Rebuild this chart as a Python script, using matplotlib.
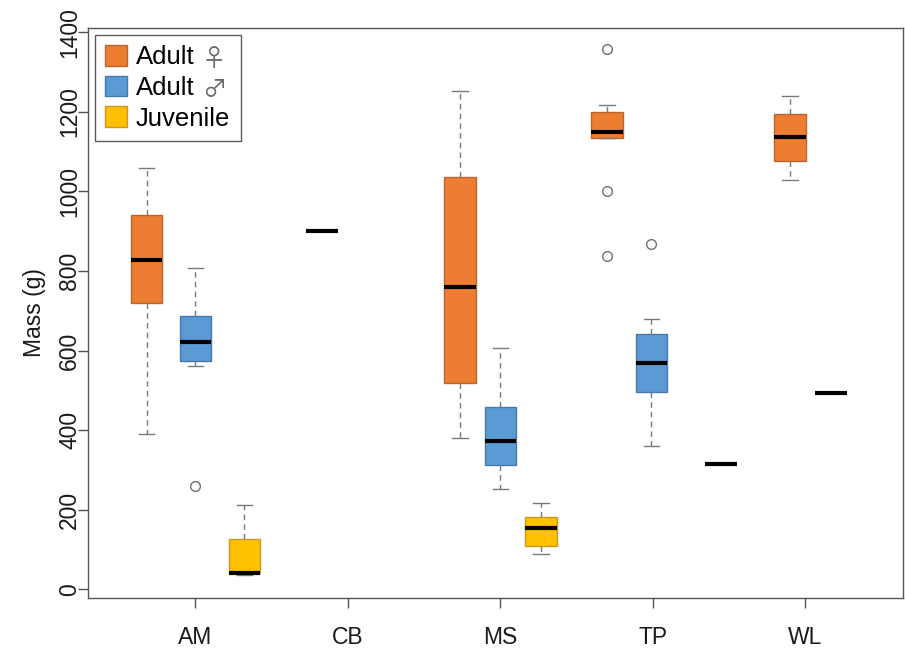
import matplotlib
matplotlib.use("Agg")
import matplotlib.pyplot as plt
from matplotlib.patches import Patch

plt.rcParams['font.family'] = ['Liberation Sans', 'DejaVu Sans']

# sites on the x axis
sites = ["AM", "CB", "MS", "TP", "WL"]

# one entry per box: site, class and five-number summary (g)
box_site  = ["AM", "AM", "AM", "CB", "MS", "MS", "MS", "TP", "TP", "TP", "WL", "WL"]
box_class = ["F",  "M",  "J",  "F",  "F",  "M",  "J",  "F",  "M",  "J",  "F",  "J"]
whislo    = [391,  560,  35,   900,  381,  252,  89,   1135, 360,  315,  1029, 494]
q1        = [719,  574,  40,   900,  518,  312,  109,  1135, 495,  315,  1077, 494]
med       = [828,  622,  42,   900,  760,  373,  153,  1150, 569,  315,  1136, 494]
q3        = [942,  687,  126,  900,  1037, 459,  182,  1199, 641,  315,  1195, 494]
whishi    = [1059, 808,  211,  900,  1253, 607,  216,  1218, 679,  315,  1239, 494]
fliers    = [[], [260], [], [], [], [], [], [1358, 1000, 838], [868], [], [], []]

classes = ["F", "M", "J"]
class_names = ["Adult", "Adult", "Juvenile"]
class_signs = ["\u2640", "\u2642", ""]

# layout / style
box_offset = [-0.321, 0.0, 0.321, -0.172, -0.266, 0.0, 0.265, -0.30, -0.01, 0.446, -0.102, 0.167]
fill = {"F": "#ED7D31", "M": "#5B9BD5", "J": "#FFC000"}
edge = {"F": "#B9652F", "M": "#4778A6", "J": "#C99A1E"}
axis_col = "#555555"

fig = plt.figure(figsize=(9.05, 6.49), dpi=100)
ax = fig.add_axes([0.0972, 0.0786, 0.9006, 0.8783])

stats = []
for i in range(len(box_site)):
    stats.append(dict(med=med[i], q1=q1[i], q3=q3[i],
                      whislo=whislo[i], whishi=whishi[i], fliers=fliers[i]))
positions = [sites.index(s) + 1 + off for s, off in zip(box_site, box_offset)]

w = 0.207
bp = ax.bxp(stats, positions=positions, widths=w, capwidths=w / 2,
            patch_artist=True, showfliers=True, manage_ticks=False,
            boxprops=dict(linewidth=1),
            whiskerprops=dict(color="#7a7a7a", linestyle=(0, (4, 3)), linewidth=1),
            capprops=dict(color="#7a7a7a", linewidth=1),
            medianprops=dict(color="black", linewidth=3, solid_capstyle="butt"),
            flierprops=dict(marker="o", markerfacecolor="none",
                            markeredgecolor="#707070", markersize=7, markeredgewidth=1))

for i, box in enumerate(bp["boxes"]):
    if q1[i] == q3[i]:
        # single observation: only the median bar shows
        box.set_facecolor("none")
        box.set_edgecolor("none")
        bp["caps"][2 * i].set_visible(False)
        bp["caps"][2 * i + 1].set_visible(False)
    else:
        box.set_facecolor(fill[box_class[i]])
        box.set_edgecolor(edge[box_class[i]])

ax.set_xlim(0.295, 5.64)
ax.set_ylim(-22, 1411)
ax.set_xticks(range(1, len(sites) + 1))
ax.set_xticklabels(sites)
ax.set_yticks(range(0, 1401, 200))
ax.set_yticklabels([str(v) for v in range(0, 1401, 200)], rotation=90, va="center")
ax.tick_params(axis="both", direction="out", length=7, width=1, color=axis_col,
               labelsize=16.5, labelcolor="#1a1a1a")
ax.tick_params(axis="x", pad=13)
ax.tick_params(axis="y", pad=-2)
for sp in ax.spines.values():
    sp.set_color(axis_col)
    sp.set_linewidth(1)

ax.set_ylabel("Mass (g)", fontsize=16.5, color="#1a1a1a", labelpad=9)

handles = [Patch(facecolor=fill[c], edgecolor=edge[c], linewidth=1) for c in classes]
leg = ax.legend(handles, class_names, loc="upper left", bbox_to_anchor=(0.0086, 0.9877),
                borderaxespad=0, fontsize=18.5, frameon=True, fancybox=False,
                handlelength=0.85, handleheight=0.85, handletextpad=0.35,
                labelspacing=0.25, borderpad=0.4)
leg.get_frame().set_edgecolor("#333333")
leg.get_frame().set_linewidth(1)

# sex signs drawn after the legend labels, in a thin face
fig.canvas.draw()
for t, sign in zip(leg.get_texts(), class_signs):
    if not sign:
        continue
    bb = t.get_window_extent()
    fig.text(bb.x1 + 7, (bb.y0 + bb.y1) / 2 - 2, sign, transform=None,
             ha="left", va="center", fontsize=17.5, color="#6a6a6a",
             family=["Noto Sans CJK JP", "DejaVu Sans"])

fig.savefig("out.png", dpi=100)
